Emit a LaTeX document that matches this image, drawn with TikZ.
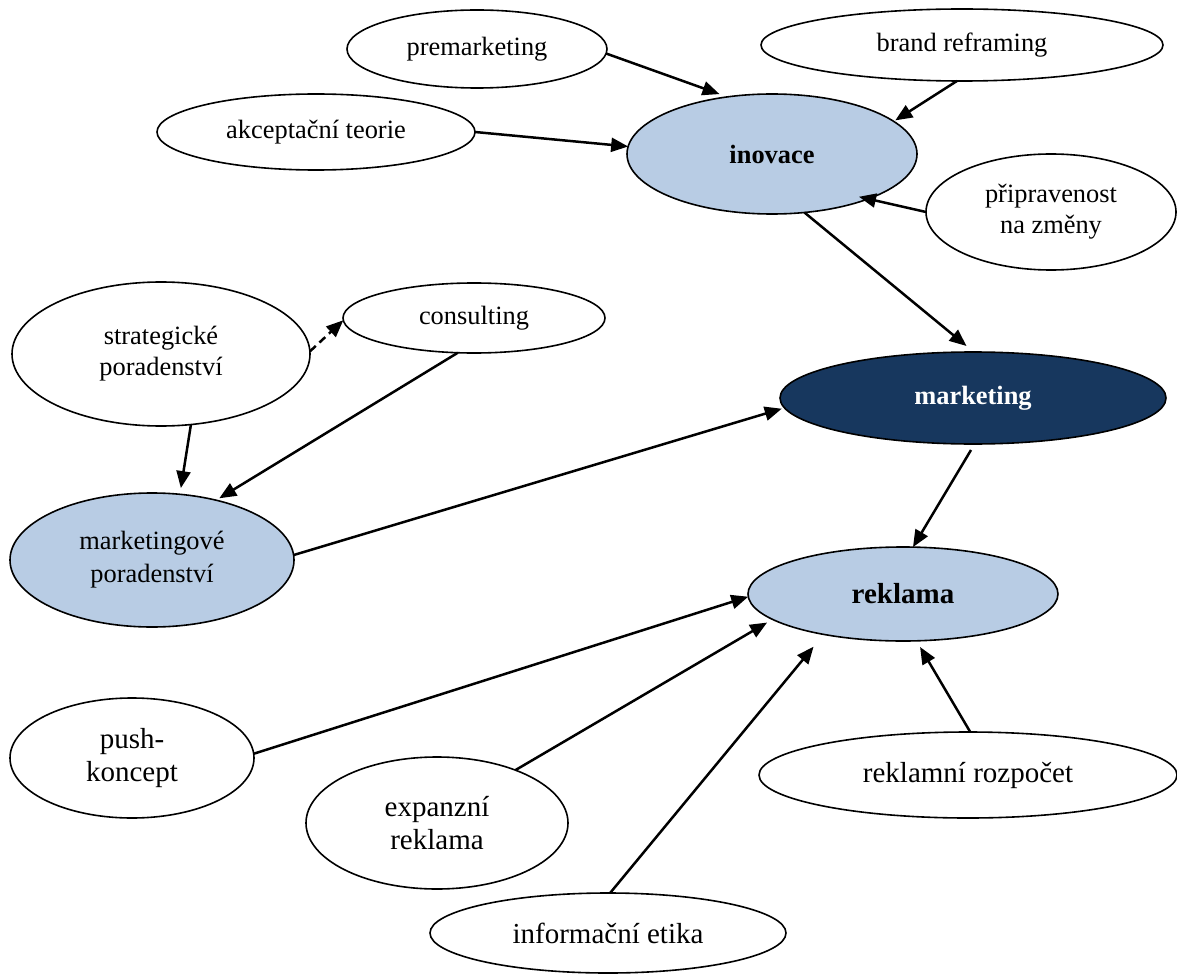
\documentclass[tikz,border=0pt]{standalone}
\usepackage{fontspec}
\setmainfont{Liberation Serif}
\usetikzlibrary{arrows.meta,shapes.geometric}
\definecolor{hubblue}{HTML}{B8CCE4}
\definecolor{hubnavy}{HTML}{17375E}
\begin{document}
\begin{tikzpicture}[x=1pt,y=-1pt,
  ell/.style={ellipse, draw=black, line width=1.6pt, fill=white, inner sep=0pt, outer sep=0pt,
    align=center, font=\fontsize{26.4}{31}\selectfont},
  bigtxt/.style={font=\fontsize{29}{33.5}\selectfont},
  hub/.style={fill=hubblue, font=\fontsize{26.4}{31}\selectfont\bfseries},
  bighub/.style={fill=hubblue, font=\fontsize{29}{33.5}\selectfont\bfseries},
  darkhub/.style={fill=hubnavy, text=white, font=\fontsize{26.4}{31}\selectfont\bfseries},
  conn/.style={line width=2.5pt, -{Triangle[length=17pt,width=14pt]}},
  dconn/.style={conn, dash pattern=on 8pt off 5pt}
]
\fill[white] (0,0) rectangle (1177,976);
\useasboundingbox (0,0) rectangle (1177,976);

\node[ell, minimum width=260, minimum height=78] (prem) at (477,49) {premarketing};
\node[ell, minimum width=402, minimum height=72] (brand) at (962,45) {brand reframing};
\node[ell, minimum width=318, minimum height=76] (akc) at (316,132) {akceptační teorie};
\node[ell, hub, minimum width=290, minimum height=120] (inov) at (772,154) {inovace};
\node[ell, minimum width=250, minimum height=116] (prip) at (1051,212) {připravenost\\na změny};
\node[ell, minimum width=298, minimum height=144] (strat) at (161,354) {strategické\\poradenství};
\node[ell, minimum width=262, minimum height=70] (cons) at (474,318) {consulting};
\node[ell, darkhub, minimum width=386, minimum height=92] (mkt) at (973,398) {\raisebox{-3pt}{marketing}};
\node[ell, hub, font=\fontsize{26.4}{33}\selectfont, minimum width=284, minimum height=134] (mkp) at (152,560) {marketingové\\poradenství};
\node[ell, bighub, minimum width=310, minimum height=94] (rek) at (903,594) {reklama};
\node[ell, bigtxt, minimum width=244, minimum height=120] (push) at (132,758) {push-\\koncept};
\node[ell, bigtxt, minimum width=262, minimum height=132] (exp) at (437,823) {expanzní\\reklama};
\node[ell, bigtxt, minimum width=418, minimum height=86] (rozp) at (968,775) {reklamní rozpočet};
\node[ell, bigtxt, minimum width=356, minimum height=80] (info) at (608,933) {informační etika};

\draw[conn, shorten >=8.4pt] (prem.-2.2) -- (inov.128.3);
\draw[conn, shorten >=1.9pt] (brand.262.3) -- (inov.15.9);
\draw[conn] (akc.0) -- (inov.177.2);
\draw[conn, shorten >=-9.5pt] (prip.180.5) -- (inov.-25.3);
\draw[conn, shorten >=9.5pt] (inov.-61.6) -- (mkt.89.5);
\draw[conn, shorten >=2.9pt] (mkp.2.4) -- (mkt.183.1);
\draw[conn, shorten >=6.3pt] (strat.-67.4) -- (mkp.67.8);
\draw[conn, shorten >=3.7pt] (cons.245.4) -- (mkp.43.7);
\draw[dconn] (strat.1.5) -- (cons.181.7);
\draw[conn, shorten <=7pt] (mkt.-88) -- (rek.78);
\draw[conn] (push.2.3) -- (rek.181.1);
\draw[conn, shorten >=6.3pt] (exp.34.2) -- (rek.191.3);
\draw[conn, shorten >=16pt] (info.87.2) -- (rek.207.9);
\draw[conn, shorten >=7.2pt] (rozp.87.3) -- (rek.-74.1);
\end{tikzpicture}
\end{document}
